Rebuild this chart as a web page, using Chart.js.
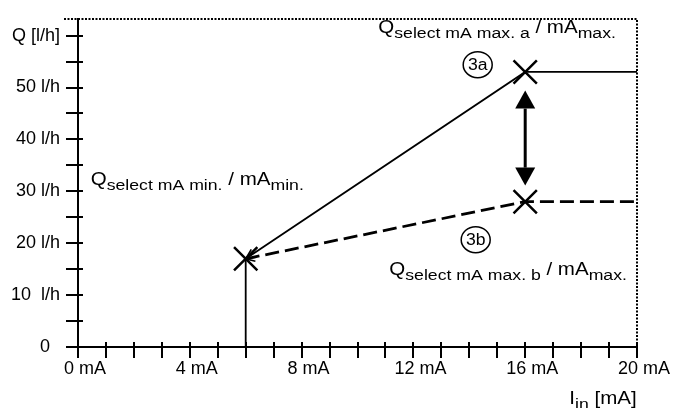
<!DOCTYPE html>
<html>
<head>
<meta charset="utf-8">
<script src="https://cdn.jsdelivr.net/npm/chart.js@4"></script>
<style>
  html, body { margin: 0; background: #fff; }
  canvas { display: block; }
</style>
</head>
<body>
<canvas id="grafico" width="673" height="408"></canvas>
<script>
const FONTE = 'Arial, "Liberation Sans", sans-serif';

// eixo x: corrente de entrada (mA)
const correnteTicks = [0, 1, 2, 3, 4, 5, 6, 7, 8, 9, 10, 11, 12, 13, 14, 15, 16, 17, 18, 19, 20];
const correnteRotulos = { 0: '0 mA', 4: '4 mA', 8: '8 mA', 12: '12 mA', 16: '16 mA', 20: '20 mA' };

// eixo y: vazão (l/h)
const vazaoTicks = [0, 5, 10, 15, 20, 25, 30, 35, 40, 45, 50, 55, 60];
const vazaoRotulos = { 0: '0  ', 10: '10  l/h', 20: '20 l/h', 30: '30 l/h', 40: '40 l/h', 50: '50 l/h', 60: 'Q [l/h]' };

// curvas
const linhaContinua = [{ x: 6, y: 0 }, { x: 6, y: 17 }, { x: 16, y: 53 }, { x: 20, y: 53 }];
const linhaTracejada = [{ x: 6, y: 17 }, { x: 16, y: 28 }, { x: 20, y: 28 }];
const pontosMarcados = [{ x: 6, y: 17 }, { x: 16, y: 53 }, { x: 16, y: 28 }];
const setaDupla = [{ x: 16, y: 31.1 }, { x: 16, y: 49.4 }];

function linha(ctx, x1, y1, x2, y2) {
  ctx.beginPath();
  ctx.moveTo(x1, y1);
  ctx.lineTo(x2, y2);
  ctx.stroke();
}

function textoComposto(ctx, x, y, partes) {
  ctx.save();
  ctx.translate(x, y);
  ctx.scale(1.14, 1);
  ctx.textBaseline = 'alphabetic';
  ctx.textAlign = 'left';
  let cx = 0;
  partes.forEach(([t, sub]) => {
    ctx.font = (sub ? '15.5px ' : '18px ') + FONTE;
    ctx.fillText(t, cx, sub ? 5 : 0);
    cx += ctx.measureText(t).width;
  });
  ctx.restore();
}

function circulo(ctx, cx, cy, texto) {
  ctx.save();
  ctx.lineWidth = 1.5;
  ctx.beginPath();
  ctx.ellipse(cx, cy, 14.5, 13, 0, 0, Math.PI * 2);
  ctx.stroke();
  ctx.translate(cx, cy);
  ctx.scale(1.1, 1);
  ctx.font = '16px ' + FONTE;
  ctx.textAlign = 'center';
  ctx.textBaseline = 'middle';
  ctx.fillText(texto, 0, 1);
  ctx.restore();
}

function pontaAberta(ctx, de, para, comp) {
  const ang = Math.atan2(para.y - de.y, para.x - de.x);
  const abertura = 0.45;
  ctx.beginPath();
  ctx.moveTo(para.x - comp * Math.cos(ang - abertura), para.y - comp * Math.sin(ang - abertura));
  ctx.lineTo(para.x, para.y);
  ctx.lineTo(para.x - comp * Math.cos(ang + abertura), para.y - comp * Math.sin(ang + abertura));
  ctx.stroke();
}

const desenhoExtra = {
  id: 'desenhoExtra',
  afterDraw(chart) {
    const { ctx, chartArea: a, scales: { x, y } } = chart;
    const px = p => ({ x: x.getPixelForValue(p.x), y: y.getPixelForValue(p.y) });
    ctx.save();
    ctx.strokeStyle = '#000';
    ctx.fillStyle = '#000';

    // moldura pontilhada
    ctx.lineWidth = 2;
    ctx.setLineDash([2, 1.5]);
    ctx.beginPath();
    ctx.moveTo(a.left - 14, Math.round(a.top));
    ctx.lineTo(Math.round(a.right), Math.round(a.top));
    ctx.lineTo(Math.round(a.right), a.bottom);
    ctx.stroke();
    ctx.setLineDash([]);

    // marcas dos eixos, cruzando a linha
    ctx.lineWidth = 2;
    correnteTicks.forEach(v => {
      const xp = Math.round(x.getPixelForValue(v));
      linha(ctx, xp, a.bottom - 5, xp, a.bottom + 11);
    });
    vazaoTicks.forEach(v => {
      const yp = Math.round(y.getPixelForValue(v));
      linha(ctx, a.left - 12, yp, a.left + 5, yp);
    });

    // pontas pequenas no ponto mínimo
    ctx.lineWidth = 1.6;
    pontaAberta(ctx, px(linhaContinua[2]), px(linhaContinua[1]), 11);
    pontaAberta(ctx, px(linhaTracejada[1]), px(linhaTracejada[0]), 10);

    // seta dupla
    const baixo = px(setaDupla[0]);
    const cima = px(setaDupla[1]);
    const compPonta = 18, largPonta = 10;
    ctx.lineWidth = 3;
    linha(ctx, cima.x, cima.y + compPonta, baixo.x, baixo.y - compPonta);
    ctx.beginPath();
    ctx.moveTo(cima.x, cima.y);
    ctx.lineTo(cima.x - largPonta, cima.y + compPonta);
    ctx.lineTo(cima.x + largPonta, cima.y + compPonta);
    ctx.closePath();
    ctx.fill();
    ctx.beginPath();
    ctx.moveTo(baixo.x, baixo.y);
    ctx.lineTo(baixo.x - largPonta, baixo.y - compPonta);
    ctx.lineTo(baixo.x + largPonta, baixo.y - compPonta);
    ctx.closePath();
    ctx.fill();

    // textos
    textoComposto(ctx, 90.7, 185, [['Q'], ['select mA min.', 1], [' / mA'], ['min.', 1]]);
    textoComposto(ctx, 378.3, 33.3, [['Q'], ['select mA max. a', 1], [' / mA'], ['max.', 1]]);
    textoComposto(ctx, 389.3, 275, [['Q'], ['select mA max. b', 1], [' / mA'], ['max.', 1]]);
    textoComposto(ctx, 569.3, 404, [['I'], ['in', 1], [' [mA]']]);
    circulo(ctx, 477.7, 64.7, '3a');
    circulo(ctx, 475.7, 239.7, '3b');

    ctx.restore();
  }
};

new Chart(document.getElementById('grafico').getContext('2d'), {
  type: 'scatter',
  data: {
    datasets: [
      {
        data: linhaContinua,
        showLine: true,
        borderColor: '#000',
        borderWidth: 1.8,
        pointRadius: 0,
        fill: false
      },
      {
        data: linhaTracejada,
        showLine: true,
        borderColor: '#000',
        borderWidth: 2.8,
        borderDash: [14, 6],
        pointRadius: 0,
        fill: false
      },
      {
        data: pontosMarcados,
        showLine: false,
        pointStyle: 'crossRot',
        pointRadius: 16.5,
        borderColor: '#000',
        backgroundColor: '#000',
        borderWidth: 2.5
      }
    ]
  },
  options: {
    responsive: false,
    animation: false,
    clip: false,
    layout: { padding: { top: 12, right: 36, left: 0, bottom: 0 } },
    plugins: {
      legend: { display: false },
      tooltip: { enabled: false }
    },
    scales: {
      x: {
        type: 'linear',
        min: 0,
        max: 20,
        afterBuildTicks: s => { s.ticks = correnteTicks.map(v => ({ value: v })); },
        afterFit: s => { s.height = 61; },
        ticks: {
          callback: v => correnteRotulos[v] ?? '',
          autoSkip: false,
          maxRotation: 0,
          labelOffset: 7,
          padding: 0,
          color: '#000',
          font: { size: 18, family: FONTE }
        },
        grid: { drawOnChartArea: false, tickLength: 11, color: 'transparent' },
        border: { color: '#000', width: 2 }
      },
      y: {
        type: 'linear',
        min: 0,
        max: 63.2,
        afterBuildTicks: s => { s.ticks = vazaoTicks.map(v => ({ value: v })); },
        afterFit: s => { s.width = 78; },
        ticks: {
          callback: v => vazaoRotulos[v] ?? '',
          autoSkip: false,
          padding: 6,
          color: '#000',
          font: { size: 18, family: FONTE }
        },
        grid: { drawOnChartArea: false, tickLength: 12, color: 'transparent' },
        border: { color: '#000', width: 2 }
      }
    }
  },
  plugins: [desenhoExtra]
});
</script>
</body>
</html>
